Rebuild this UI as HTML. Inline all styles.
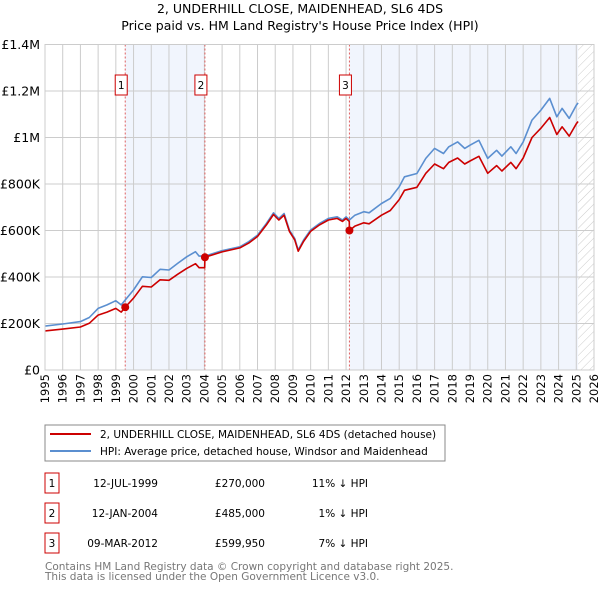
<!DOCTYPE html>
<html><head><meta charset="utf-8"><style>
body{margin:0;background:#fff;width:600px;height:590px;overflow:hidden;font-family:"Liberation Sans","DejaVu Sans",sans-serif}
text{font-family:"DejaVu Sans","Liberation Sans",sans-serif}
</style></head><body>
<svg id="c" width="600" height="590" xmlns="http://www.w3.org/2000/svg">
<defs><pattern id="hatch" width="6" height="6" patternUnits="userSpaceOnUse" patternTransform="rotate(45)"><line x1="0" y1="0" x2="0" y2="6" stroke="#ccc" stroke-width="1"/></pattern></defs>
<text x="300" y="13" text-anchor="middle" font-size="12.5" fill="#000">2, UNDERHILL CLOSE, MAIDENHEAD, SL6 4DS</text>
<text x="300" y="30" text-anchor="middle" font-size="12.5" fill="#000">Price paid vs. HM Land Registry's House Price Index (HPI)</text>
<g id="plot"></g>
<rect x="45" y="425" width="400" height="36" fill="#fff" stroke="#888"/>
<line x1="50" y1="434" x2="91" y2="434" stroke="#cc0000" stroke-width="2"/>
<text x="100" y="438" font-size="10.5">2, UNDERHILL CLOSE, MAIDENHEAD, SL6 4DS (detached house)</text>
<line x1="50" y1="451" x2="91" y2="451" stroke="#5b8fd0" stroke-width="2"/>
<text x="100" y="455" font-size="10.5">HPI: Average price, detached house, Windsor and Maidenhead</text>
<g id="table" font-size="10.5"></g>
<text x="45" y="570" font-size="10.5" fill="#777">Contains HM Land Registry data © Crown copyright and database right 2025.</text>
<text x="45" y="580" font-size="10.5" fill="#777">This data is licensed under the Open Government Licence v3.0.</text>
</svg>
<script>
const hpiYears=[1995,1996,1997,1997.5,1998,1998.5,1999,1999.3,1999.53,2000,2000.5,2001,2001.5,2002,2002.5,2003,2003.5,2003.7,2004.03,2005,2006,2006.5,2007,2007.5,2007.9,2008.2,2008.5,2008.8,2009.1,2009.3,2009.6,2010,2010.5,2011,2011.5,2011.8,2012.0,2012.19,2012.5,2013,2013.3,2014,2014.5,2015,2015.3,2016,2016.5,2017,2017.5,2017.8,2018.3,2018.7,2019,2019.5,2020,2020.5,2020.8,2021.3,2021.6,2022,2022.5,2023,2023.5,2023.9,2024.2,2024.6,2025.0,2025.1];
const hpiValues=[189,198,208,226,265,280,298,280,301,344,401,398,433,430,459,487,509,490,490,513,530,552,580,630,676,652,673,602,566,516,559,602,630,652,659,645,659,645,666,681,676,716,738,788,831,845,910,953,931,960,981,953,967,988,910,945,920,960,931,981,1075,1118,1168,1089,1125,1082,1139,1149];
const priceYears=[1995,1996,1997,1997.5,1998,1998.5,1999,1999.3,1999.53,2000,2000.5,2001,2001.5,2002,2002.5,2003,2003.5,2003.7,2004.02,2004.03,2005,2006,2006.5,2007,2007.5,2007.9,2008.2,2008.5,2008.8,2009.1,2009.3,2009.6,2010,2010.5,2011,2011.5,2011.8,2012.0,2012.18,2012.19,2012.5,2013,2013.3,2014,2014.5,2015,2015.3,2016,2016.5,2017,2017.5,2017.8,2018.3,2018.7,2019,2019.5,2020,2020.5,2020.8,2021.3,2021.6,2022,2022.5,2023,2023.5,2023.9,2024.2,2024.6,2025.0,2025.1];
const priceValues=[168,176,185,201,236,249,265,249,270,309,360,357,388,386,412,437,457,440,440,485,508,525,546,574,624,669,645,666,596,560,511,553,596,624,645,652,639,652,639,600,619,633,629,666,686,733,773,786,846,886,866,893,912,886,899,919,846,879,856,893,866,912,1000,1040,1086,1013,1046,1006,1059,1069];
const saleYears=[1999.53,2004.03,2012.19];
const saleValues=[270,485,599.95];
const saleLabels=["1","2","3"];
const saleDates=["12-JUL-1999","12-JAN-2004","09-MAR-2012"];
const salePrices=["£270,000","£485,000","£599,950"];
const saleDiffs=["11% ↓ HPI","1% ↓ HPI","7% ↓ HPI"];
const yTicks=[0,200,400,600,800,1000,1200,1400];
const yTickLabels=["£0","£200K","£400K","£600K","£800K","£1M","£1.2M","£1.4M"];
const xTicks=[1995,1996,1997,1998,1999,2000,2001,2002,2003,2004,2005,2006,2007,2008,2009,2010,2011,2012,2013,2014,2015,2016,2017,2018,2019,2020,2021,2022,2023,2024,2025,2026];
const dataEnd=2025.1;

const L=45,R=594,T=44.5,B=370;
const X=y=>L+(y-1995)/(2026-1995)*(R-L);
const Y=v=>B-v/1400*(B-T);
const NS="http://www.w3.org/2000/svg";
const plot=document.getElementById('plot');
function mk(tag,attrs,parent){const e=document.createElementNS(NS,tag);for(const k in attrs)e.setAttribute(k,attrs[k]);(parent||plot).appendChild(e);return e;}

let r=mk('rect',{x:L,y:T,width:R-L,height:B-T,fill:'#fff'});


const shadeStarts=[saleYears[0],saleYears[2]];
const shadeEnds=[saleYears[1],dataEnd];
for(let i=0;i<shadeStarts.length;i++){
  const s=mk('rect',{x:X(shadeStarts[i]),y:T,width:X(shadeEnds[i])-X(shadeStarts[i]),height:B-T,fill:'#eef3fc',opacity:0.8});
  
  
}
const h=mk('rect',{x:X(dataEnd),y:T,width:R-X(dataEnd),height:B-T,fill:'url(#hatch)'});


xTicks.forEach(t=>{
  const g=mk('line',{x1:X(t),x2:X(t),y1:T,y2:B,stroke:'#ccc','stroke-width':1});
  
  
  const tx=mk('text',{x:0,y:0,'font-size':11.5,'text-anchor':'end',transform:`translate(${X(t)+4},${B+4}) rotate(-90)`});
  tx.textContent=t;
  
  
});
yTicks.forEach((t,i)=>{
  const g=mk('line',{x1:L,x2:R,y1:Y(t),y2:Y(t),stroke:'#ccc','stroke-width':1});
  
  
  const tx=mk('text',{x:L-5,y:Y(t)+4.5,'font-size':12.5,'text-anchor':'end'});
  tx.textContent=yTickLabels[i];
  
  
});
saleYears.forEach((s,i)=>{
  const v=mk('line',{x1:X(s),x2:X(s),y1:T,y2:B,stroke:'#e06060','stroke-width':1,'stroke-dasharray':'2,2'});
  
  
  const bx=mk('rect',{x:X(s)-10,y:75,width:12,height:20,fill:'#fff',stroke:'#cc0000'});
  
  
  const t=mk('text',{x:X(s)-4,y:89,'font-size':10.5,'text-anchor':'middle'});
  t.textContent=saleLabels[i];
  
  
});
function line(xs,vs,color,name){
  const p=mk('polyline',{points:xs.map((x,i)=>X(x).toFixed(1)+','+Y(vs[i]).toFixed(1)).join(' '),fill:'none',stroke:color,'stroke-width':1.6,'stroke-linejoin':'round'});
  
  
}
line(hpiYears,hpiValues,'#5b8fd0','hpi-line');
line(priceYears,priceValues,'#cc0000','price-paid-line');
saleYears.forEach((s,i)=>{
  const c=mk('circle',{cx:X(s),cy:Y(saleValues[i]),r:4,fill:'#cc0000'});
  
  
});
const ax=mk('rect',{x:L,y:T,width:R-L,height:B-T,fill:'none',stroke:'#ccc'});


const tb=document.getElementById('table');
saleLabels.forEach((lab,i)=>{
  const cy=483+i*30;
  const b=mk('rect',{x:45,y:cy-10,width:14,height:20,fill:'#fff',stroke:'#cc0000'},tb);
  
  
  const cells=[[52,lab,'middle','table-index'],[158,saleDates[i],'end','table-date'],[265,salePrices[i],'end','table-price'],[368,saleDiffs[i],'end','table-hpi-diff']];
  cells.forEach(c=>{
    const t=mk('text',{x:c[0],y:cy+4,'text-anchor':c[2]},tb);
    t.textContent=c[1];
    
    
  });
});
</script>
</body></html>
